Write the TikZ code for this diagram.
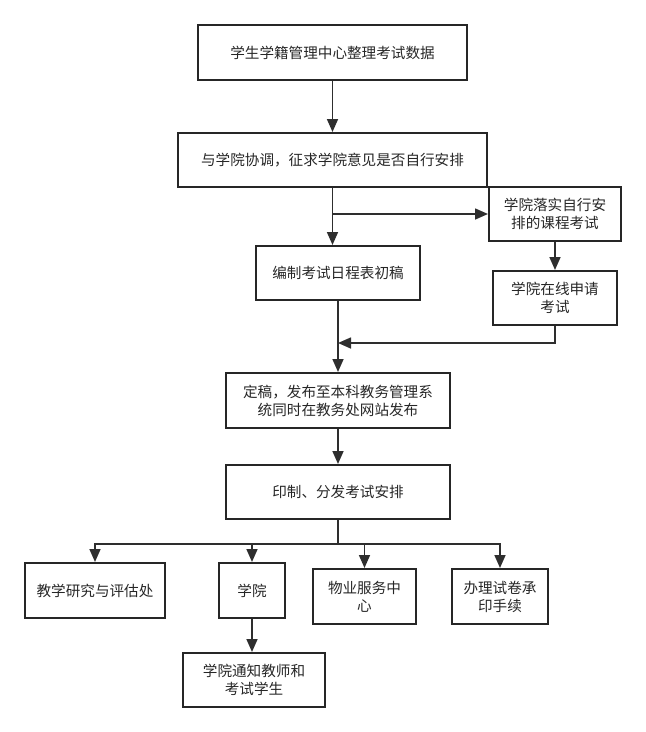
\documentclass[tikz,border=0pt]{standalone}
\usepackage{fontspec}
\newfontfamily\cjk{Noto Sans CJK SC}
\usepackage{tikz}
\usetikzlibrary{arrows.meta,positioning}
\tikzset{
    myptr/.style={
        -{Triangle[length=13pt,width=11pt]},
        line width=1.6pt,
        draw=black!82
    },
    mybox/.style={
        draw=black!85,
        line width=2pt,
        inner sep=0pt,
        align=center,
        font=\cjk\fontsize{14.6}{18}\selectfont,
        text=black!85
    }
}

\begin{document}
\begin{tikzpicture}[x=1pt,y=-1pt]
        % fix the page size
        \useasboundingbox (0,0) rectangle (646,732);

        % draw boxes
        \node[mybox, minimum width=269pt, minimum height=55pt] (collect) at (332.5,52.5) {学生学籍管理中心整理考试数据};
        \node[mybox, minimum width=309pt, minimum height=54pt] (consult) at (332.5,160) {与学院协调，征求学院意见是否自行安排};
        \node[mybox, minimum width=132pt, minimum height=54pt] (selfarr) at (555,214) {学院落实自行安\\排的课程考试};
        \node[mybox, minimum width=164pt, minimum height=54pt] (draft) at (338,273) {编制考试日程表初稿};
        \node[mybox, minimum width=124pt, minimum height=54pt] (apply) at (555,298) {学院在线申请\\考试};
        \node[mybox, minimum width=224pt, minimum height=55pt] (publish) at (338,400.5) {定稿，发布至本科教务管理系\\统同时在教务处网站发布};
        \node[mybox, minimum width=224pt, minimum height=54pt] (print) at (338,492) {印制、分发考试安排};
        \node[mybox, minimum width=140pt, minimum height=55pt] (evalo) at (95,590.5) {教学研究与评估处};
        \node[mybox, minimum width=66pt, minimum height=55pt] (college) at (252,590.5) {学院};
        \node[mybox, minimum width=103pt, minimum height=55pt] (property) at (364.5,596.5) {物业服务中\\心};
        \node[mybox, minimum width=96pt, minimum height=55pt] (printing) at (500,596.5) {办理试卷承\\印手续};
        \node[mybox, minimum width=142pt, minimum height=54pt] (notify) at (254,680) {学院通知教师和\\考试学生};

        % helper points
        \coordinate (split) at (consult.south |- selfarr.west);
        \coordinate (join) at (draft.south |- 0,343);
        \coordinate (fan) at (print.south |- 0,544);

        % draw arrows
        \draw[myptr] (collect) -- (consult);
        \draw[myptr] (consult.south) -- (consult.south |- draft.north);
        \draw[myptr] (split) -- (selfarr.west);
        \draw[myptr] (selfarr) -- (apply);
        \draw[myptr] (apply.south) |- (join);
        \draw[myptr] (draft) -- (publish);
        \draw[myptr] (publish) -- (print);
        \draw[line width=1.6pt, draw=black!82] (print.south) -- (fan);
        \foreach \dest in {evalo, college, property, printing}
        {
            \draw[myptr] (fan) -| (\dest.north);
        }
        \draw[myptr] (college.south) -- (college.south |- notify.north);
    \end{tikzpicture}
\end{document}
